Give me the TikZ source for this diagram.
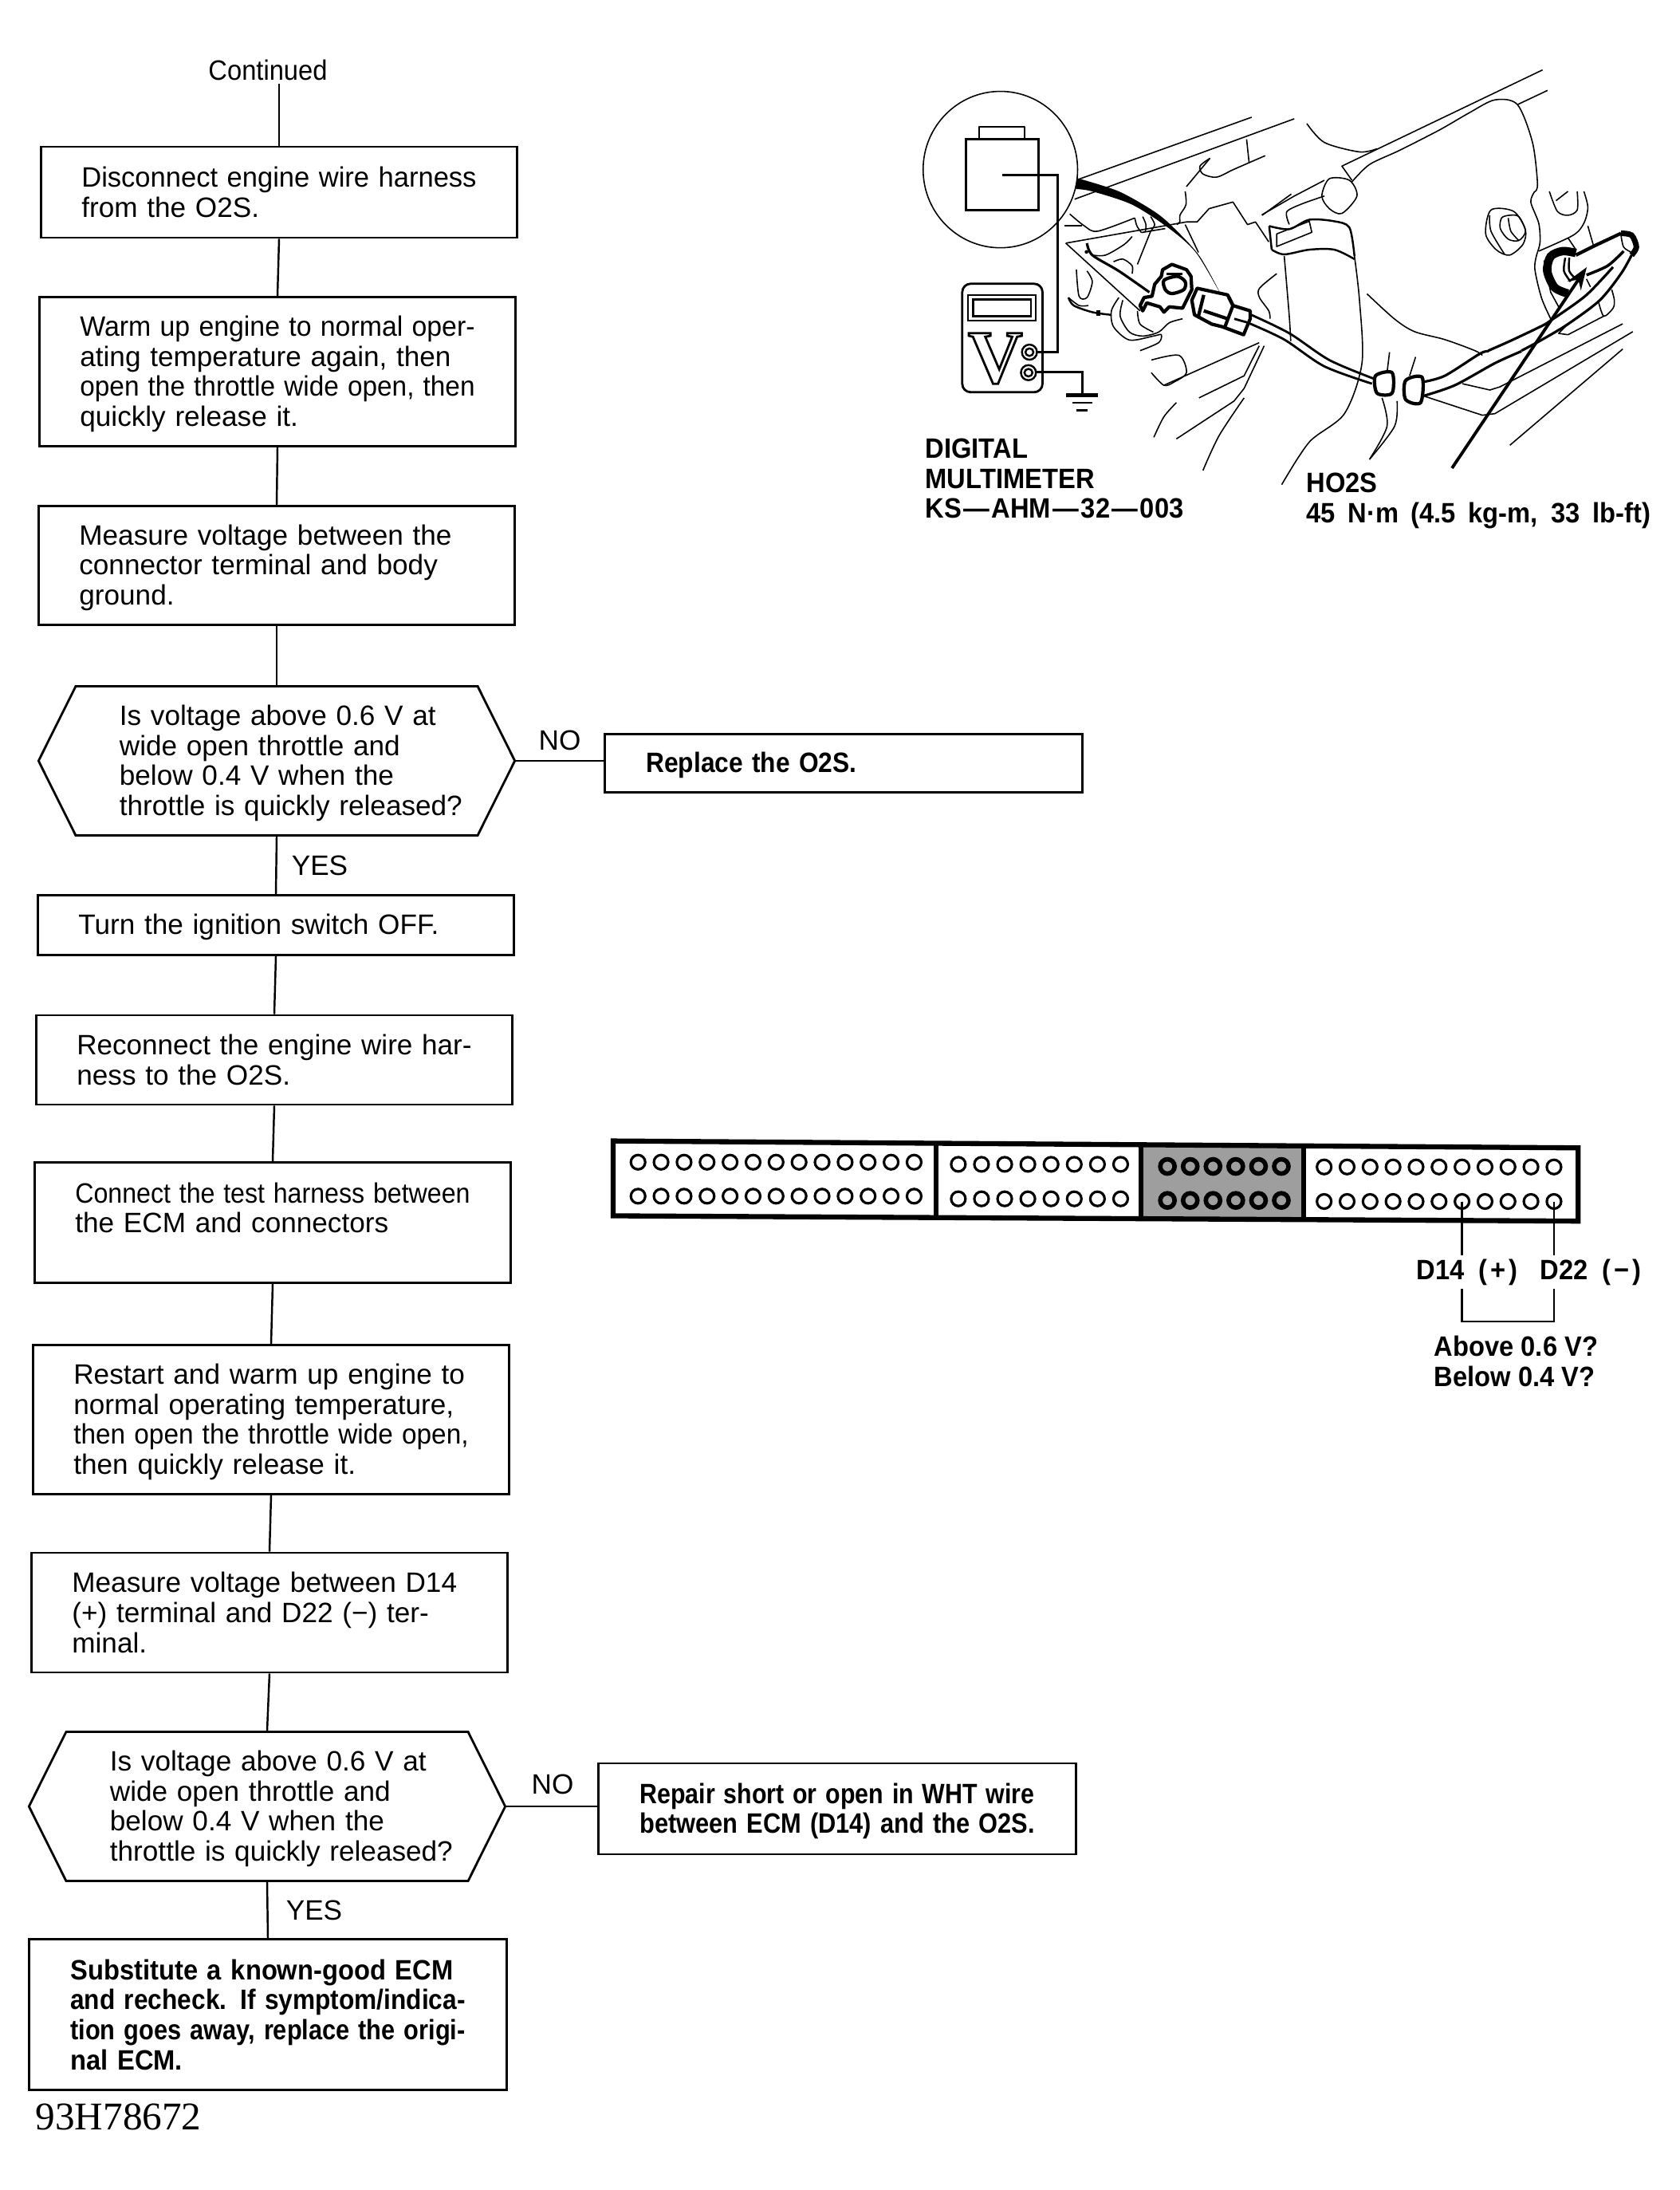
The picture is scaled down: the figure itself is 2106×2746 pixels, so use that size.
\documentclass[tikz,border=0pt]{standalone}
\usepackage{fontspec,graphicx}
\setmainfont{Liberation Sans}
\newfontfamily\serifcode{Liberation Serif}
\newfontfamily\flowbold[FakeStretch=0.93]{Liberation Sans}
\usetikzlibrary{arrows.meta,shapes.symbols}
\newsavebox\linebox
\newcommand{\fl}[2][4.95cm]{\sbox\linebox{#2}\ifdim\wd\linebox>#1\relax\resizebox{#1}{\height}{\usebox\linebox}\else\makebox[#1][s]{#2}\fi}
\newcommand{\jl}[2][4.95cm]{\fl[#1]{#2}\\}
\newcommand{\ql}{\hspace*{0.38cm}}
\newcommand{\flowfont}{\fontsize{10}{10.7}\selectfont}
\newcommand{\boldfont}{\fontsize{10}{10.7}\selectfont\flowbold\bfseries}
\newcommand{\dashgap}{\kern0.7pt—\kern0.7pt}
\begin{document}
\begin{tikzpicture}[
  x=0.01cm, y=-0.01cm,
  node_step/.style={draw, line width=0.8pt, minimum width=5.97cm, align=left, text width=4.95cm, inner sep=0pt, font=\flowfont},
  node_fix/.style={node_step, minimum width=5.98cm, font=\boldfont},
  node_ask/.style={draw, line width=0.8pt, shape=signal, signal to=east and west, signal pointer angle=127, minimum width=5.97cm, minimum height=1.87cm, inner sep=0pt, align=left, text width=4.7cm, font=\flowfont},
  node_lbl/.style={inner sep=1pt, font=\flowfont},
  node_bold/.style={inner sep=0pt, align=left, anchor=west, font=\boldfont},
  text_low/.style={execute at begin node={\leavevmode\rule{0pt}{0.31cm}}},
  hole/.style={draw, circle, line width=0.9pt, minimum size=0.18cm, inner sep=0pt},
  hole_dark/.style={hole, line width=1.6pt},
  link/.style={line width=0.7pt},
  art/.style={line width=0.45pt, line join=round},
  art_heavy/.style={line width=1.2pt, line join=round}
]
  \useasboundingbox (0,0) rectangle (2106,2746);

  %% Flowchart, left column
  \node[node_lbl] (cont) at (336,88) {\resizebox{1.49cm}{\height}{Continued}};
  \node[node_step, minimum height=1.14cm] (disc) at (350,241) {\jl{Disconnect engine wire harness}from the O2S.};
  \node[node_step, text_low, minimum height=1.87cm] (warm) at (348,466) {\jl{Warm up engine to normal oper-}\jl{ating temperature again, then}\jl{open the throttle wide open, then}quickly release it.};
  \node[node_step, text_low, minimum height=1.49cm] (meas) at (347,709) {\jl{Measure voltage between the}\jl{connector terminal and body}ground.};
  \node[node_ask, text_low] (ask1) at (347,954) {\ql Is voltage above 0.6 V at\\\ql wide open throttle and\\\ql below 0.4 V when the\\\ql throttle is quickly released?};
  \node[node_step, text_low, minimum height=0.75cm] (off) at (346,1160) {Turn the ignition switch OFF.};
  \node[node_step, minimum height=1.12cm] (reco) at (344,1329) {\jl{Reconnect the engine wire har-}ness to the O2S.};
  \node[node_step, minimum height=1.51cm] (test) at (342,1533) {\jl{Connect the test harness between}\jl[4.11cm]{the ECM and connectors}\mbox{}};
  \node[node_step, text_low, minimum height=1.87cm] (rest) at (340,1780) {\jl{Restart and warm up engine to}\jl{normal operating temperature,}\jl{then open the throttle wide open,}then quickly release it.};
  \node[node_step, minimum height=1.50cm] (mea2) at (338,2022) {\jl{Measure voltage between D14}\jl{(+) terminal and D22 (−) ter-}minal.};
  \node[node_ask, text_low] (ask2) at (335,2265) {\ql Is voltage above 0.6 V at\\\ql wide open throttle and\\\ql below 0.4 V when the\\\ql throttle is quickly released?};
  \node[node_fix, minimum height=1.89cm] (subs) at (336,2526) {\jl{Substitute a known-good ECM}\jl{and recheck. If symptom/indica-}\jl{tion goes away, replace the origi-}nal ECM.};

  %% Right hand boxes
  \node[node_fix, text_low, minimum height=0.73cm] (repl) at (1058,957) {\fl[2.64cm]{Replace the O2S.}};
  \node[node_fix, text_low, minimum height=1.14cm] (repa) at (1050,2268) {\jl{Repair short or open in WHT wire}\fl{between ECM (D14) and the O2S.}};

  \draw[link] (cont.south -| disc.north) -- (disc.north);
  \draw[link] (disc.south) -- (warm.north);
  \draw[link] (warm.south) -- (meas.north);
  \draw[link] (meas.south) -- (ask1.north);
  \draw[link] (ask1.south) -- (off.north);
  \draw[link] (off.south) -- (reco.north);
  \draw[link] (reco.south) -- (test.north);
  \draw[link] (test.south) -- (rest.north);
  \draw[link] (rest.south) -- (mea2.north);
  \draw[link] (mea2.south) -- (ask2.north);
  \draw[link] (ask2.south) -- (subs.north);
  \draw[link] (ask1.east) -- (repl.west |- ask1.east);
  \draw[link] (ask2.east) -- (repa.west |- ask2.east);

  \node[node_lbl] (no1)  at (702,928)  {NO};
  \node[node_lbl] (yes1) at (401,1085) {YES};
  \node[node_lbl] (no2)  at (693,2237) {NO};
  \node[node_lbl] (yes2) at (394,2395) {YES};
  \node[inner sep=0pt, anchor=west, font=\serifcode\fontsize{14}{16}\selectfont] (code) at (44,2654) {93H78672};

  %% ECM connector
  \begin{scope}[shift={(750,1400)}, x=0.00865cm, y=-0.00332cm]
    \fill[black!38] (787,115) rectangle (1022,382);
    \draw[line width=1.8pt, line join=miter] (22,92) -- (1420,118) -- (1420,394) -- (22,374) -- cycle;
    \draw[line width=1.6pt] (490,100) -- (490,376);
    \draw[line width=1.6pt] (787,106) -- (787,380);
    \draw[line width=1.6pt] (1022,112) -- (1022,384);
    \foreach \i in {0,...,12} {
      \node[hole] (at\i) at ({58+33.33*\i},172) {};
      \node[hole] (ab\i) at ({58+33.33*\i},300) {};
    }
    \foreach \i in {0,...,7} {
      \node[hole] (bt\i) at ({522+33.6*\i},180) {};
      \node[hole] (bb\i) at ({522+33.6*\i},310) {};
    }
    \foreach \i in {0,...,5} {
      \node[hole_dark] (ct\i) at ({825+33*\i},188) {};
      \node[hole_dark] (cb\i) at ({825+33*\i},316) {};
    }
    \foreach \i in {0,...,10} {
      \node[hole] (dt\i) at ({1052+33.3*\i},190) {};
      \node[hole] (db\i) at ({1052+33.3*\i},320) {};
    }
  \end{scope}

  \node[node_bold, anchor=center] (d14) at (1840,1595) {D14\kern5pt(\kern1.2pt+\kern1.2pt)};
  \node[node_bold, anchor=center] (d22) at (1995,1595) {D22\kern5pt(\kern1.2pt−\kern1.2pt)};
  \coordinate (brk) at (1890,1657);
  \coordinate (wire_end) at (1890,1574);
  \coordinate (brk_top) at (1890,1616);
  \draw[link] (db6.center) -- (db6 |- wire_end);
  \draw[link] (db10.center) -- (db10 |- wire_end);
  \draw[link] (db6 |- brk_top) -- (db6 |- brk) -- (db10 |- brk) -- (db10 |- brk_top);
  \node[node_bold] (volt) at (1798,1707) {Above 0.6 V?\\Below 0.4 V?};

  %% Multimeter and HO2S labels
  \node[node_bold] (meter) at (1160,600) {DIGITAL\\MULTIMETER\\KS\dashgap AHM\dashgap 32\dashgap 003};
  \node[node_bold] (ho2s) at (1638,628) {HO2S\\\fl[4.31cm]{45 N·m (4.5 kg-m, 33 lb-ft)}};

  %% Engine drawing
  \begin{scope}[shift={(1120,60)}, x=0.00629cm, y=-0.00395cm]
    %% inset and meter
    \draw[art] (214,386) ellipse [x radius=154, y radius=248];
    \draw[line width=0.8pt] (145,290) rectangle (290,515);
    \draw[art] (172,290) -- (172,250) -- (262,250) -- (262,290);
    \draw[line width=0.8pt] (218,403) -- (328,403) -- (328,965) -- (288,965);
    \draw[line width=0.8pt, rounded corners=3pt] (138,748) rectangle (298,1092);
    \draw[line width=0.6pt] (150,785) rectangle (285,865);
    \draw[line width=0.8pt] (160,797) rectangle (275,850);
    \node[inner sep=0pt, font=\serifcode\bfseries\fontsize{27}{27}\selectfont] (vee) at (204,985) {\special{pdf:code q 1 Tr 0.8 w}V\special{pdf:code Q}};
    \draw[line width=0.7pt] (272,965) ellipse [x radius=15, y radius=24];
    \draw[line width=0.7pt] (272,965) ellipse [x radius=8, y radius=12];
    \draw[line width=0.7pt] (270,1030) ellipse [x radius=15, y radius=24];
    \draw[line width=0.7pt] (270,1030) ellipse [x radius=8, y radius=12];
    \draw[line width=0.8pt] (286,1028) -- (378,1028) -- (378,1100);
    \draw[line width=1.4pt] (345,1102) -- (408,1102);
    \draw[line width=0.7pt] (358,1125) -- (398,1125);
    \draw[line width=0.7pt] (365,1150) -- (388,1150);
    %% upper and lower left of the engine
    \draw[art] (368,418) -- (715,220);
    \draw[art] (362,480) -- (800,225);
    \draw[art] (705,290) -- (710,365);
    \draw[art] plot[smooth] coordinates {(632,350) (612,375) (618,400) (645,410) (680,385) (742,342)};
    \draw[art] (632,350) -- (585,440);
    \draw[art] plot[smooth] coordinates {(515,990) (570,975) (585,1030) (560,1060) (540,1070) (515,1030)};
    \draw[art] (540,1070) -- (730,935);
    \draw[art] (610,1110) -- (700,1040) -- (730,945);
    \draw[art] (565,1240) -- (680,1120) -- (700,1080) -- (740,945);
    \draw[art] plot[smooth] coordinates {(520,1235) (540,1170) (565,1125)};
    \draw[art] plot[smooth] coordinates {(618,1340) (650,1230) (700,1110)};
    %% wire to the lead
    \draw[line width=0.8pt] plot[smooth] coordinates {(712,845) (790,905) (870,990) (960,1050)};
    \draw[line width=0.8pt] plot[smooth] coordinates {(708,872) (780,925) (860,1010) (955,1065)};
    %% hose and clamp
    \draw[art] plot[smooth] coordinates {(920,660) (930,800) (935,1000) (900,1160) (830,1250) (775,1385)};
    \draw[art] plot[smooth] coordinates {(780,660) (790,850) (793,930)};
    \draw[line width=0.7pt] plot[smooth] coordinates {(750,565) (790,575) (830,545) (880,550) (910,570) (920,660)};
    \draw[line width=0.7pt] plot[smooth] coordinates {(755,640) (780,655) (830,640) (880,640) (920,670)};
    \draw[line width=0.7pt] (750,565) -- (755,640);
    \draw[art] (765,590) -- (830,550) -- (835,585) -- (765,630) -- cycle;
    \draw[art] plot[smooth cycle] coordinates {(870,415) (910,420) (925,470) (895,525) (870,510) (855,470)};
    \draw[art] (735,530) -- (800,470) -- (860,420);
    \draw[art] plot[smooth] coordinates {(790,560) (785,520) (815,495) (860,470)};
    \draw[art] plot[smooth] coordinates {(825,240) (860,300) (930,330) (965,320)};
    %% engine body
    \draw[art] (1295,70) -- (895,375) -- (915,420);
    \draw[art] plot[smooth] coordinates {(915,425) (950,370) (1010,325) (1090,260) (1150,205) (1200,165) (1245,180) (1275,300) (1285,430) (1280,456)};
    \draw[art] (1245,180) -- (1305,135);
    \draw[art] plot[smooth] coordinates {(945,780) (1000,860) (1040,900) (1100,925) (1160,960) (1175,975)};
    \draw[art] (1060,1105) -- (1175,1165) -- (1200,1160) -- (1475,900);
    \draw[art] (1135,1065) -- (1190,1085) -- (1210,1075) -- (1455,875);
    \draw[art] (1230,1260) -- (1455,955);
    \draw[art] plot[smooth] coordinates {(975,1110) (985,1200) (950,1305)};
    \draw[art] plot[smooth] coordinates {(1005,1120) (1000,1200) (950,1305)};
    \draw[art] (990,965) -- (985,1030);
    \draw[art] (1042,980) -- (1030,1040);
    %% sensor lead
    \draw[line width=0.9pt] plot[smooth] coordinates {(1055,1060) (1100,1040) (1170,970) (1188,962)};
    \draw[line width=0.9pt] plot[smooth] coordinates {(1055,1105) (1120,1070) (1200,1000) (1253,962)};
    \draw[art_heavy, fill=white] plot[smooth cycle] coordinates {(962,1040) (995,1030) (995,1095) (965,1095)};
    \draw[art_heavy, fill=white] plot[smooth cycle] coordinates {(1022,1055) (1055,1045) (1052,1125) (1022,1115)};
  \end{scope}

  %% Connectors and harness
  \begin{scope}[shift={(1320,240)}, x=0.00333cm, y=-0.00333cm]
    \fill plot[smooth] coordinates {(93,-50) (250,0) (390,80) (470,150) (555,245) (630,380) (540,230) (440,140) (300,50) (150,0) (88,-9)} -- cycle;
    \draw[art] plot[smooth] coordinates {(500,0) (503,50) (480,90) (480,115) (468,125)};
    \draw[art] (50,195) -- (330,450);
    \draw[art] (50,195) -- (505,115) -- (545,115) -- (590,65) -- (680,40) -- (735,125) -- (765,115) -- (815,190);
    \draw[line width=0.9pt] plot[smooth] coordinates {(130,195) (150,240) (250,300) (365,380)};
    \fill (128,228) circle [radius=7];
    \draw[art] plot[smooth] coordinates {(65,85) (120,130) (170,150) (310,100)};
    \draw[art] (45,130) -- (110,130);
    \draw[art] plot[smooth] coordinates {(310,100) (318,130) (335,155)};
    \draw[art] plot[smooth] coordinates {(340,95) (352,125) (350,150)};
    \draw[art] plot[smooth] coordinates {(370,95) (385,125) (370,150)};
    \draw[art] (335,155) -- (425,140);
    \draw[art] (370,150) -- (320,275);
    \draw[art] (500,125) -- (550,230);
    \draw[art] plot[smooth] coordinates {(300,170) (270,200) (200,240) (150,240)};
    \draw[art] plot[smooth] coordinates {(230,265) (265,255) (300,280) (300,310)};
    \draw[art] plot[smooth] coordinates {(90,295) (100,395) (130,400) (150,340) (130,300)};
    \draw[line width=0.7pt] plot[smooth] coordinates {(60,400) (80,430) (150,455) (220,465)};
    \draw[art] plot[smooth] coordinates {(60,400) (100,430) (135,430)};
    \fill (165,448) rectangle (180,470);
    \draw[art] plot[smooth] coordinates {(250,400) (222,450) (230,510) (290,560) (380,545) (410,540) (400,570) (330,600)};
    \draw[art] plot[smooth] coordinates {(265,410) (255,470) (290,530) (340,545) (400,530) (440,495) (490,480)};
    \draw[art] plot[smooth] coordinates {(320,450) (330,500) (380,530)};
    \draw[art] (790,90) -- (900,10);
    \draw[art] plot[smooth] coordinates {(845,310) (780,365) (780,400) (815,450) (820,480)};
    \draw[art_heavy, fill=white] (415,295) -- (450,275) -- (505,295) -- (522,320) -- (525,370) -- (490,440) -- (440,435) -- (420,455) -- (405,435) -- (355,420) -- (340,450) -- (330,430) -- (345,400) -- (375,395) -- (385,350) -- (410,320) -- cycle;
    \draw[art_heavy] plot[smooth cycle] coordinates {(420,335) (470,320) (500,340) (495,370) (450,385) (425,370)};
    \draw[line width=0.8pt] (430,312) -- (490,312);
    \draw[art_heavy, fill=white] (545,365) -- (660,390) -- (680,430) -- (745,450) -- (745,480) -- (720,540) -- (640,510) -- (600,500) -- (535,465) -- (525,410) -- cycle;
    \draw[art_heavy] (570,390) -- (550,470);
    \draw[art_heavy] (570,450) -- (660,480);
    \draw[art_heavy] (665,400) -- (680,430) -- (650,510);
    \draw[line width=0.8pt] (685,480) -- (738,495);
  \end{scope}

  %% Sensor end
  \begin{scope}[shift={(1820,240)}, x=0.00333cm, y=-0.00333cm]
    \draw[art] plot[smooth cycle] coordinates {(150,70) (235,75) (280,145) (270,200) (220,240) (170,220) (130,160)};
    \draw[art] plot[smooth] coordinates {(145,90) (150,150) (200,235)};
    \draw[art] plot[smooth cycle] coordinates {(220,90) (190,100) (185,140) (215,180) (255,185) (280,150) (255,95)};
    \draw[art] plot[smooth] coordinates {(215,100) (225,150) (255,185)};
    \draw[art] plot[smooth] coordinates {(315,0) (300,40) (330,120) (335,190) (325,230)};
    \draw[art] plot[smooth] coordinates {(370,0) (400,75) (440,90) (475,70) (475,0)};
    \draw[art] (395,35) -- (440,0);
    \draw[art] plot[smooth] coordinates {(500,0) (515,60) (500,120) (460,165) (330,225)};
    \draw[art] (515,130) -- (535,200);
    \draw[art] (440,175) -- (470,220);
    \draw[art] plot[smooth] coordinates {(325,230) (315,290) (340,400) (375,480)};
    \draw[art] (350,260) -- (375,380) -- (405,435);
    \draw[art] (510,330) -- (525,360);
    \draw[art] plot[smooth] coordinates {(555,415) (575,470) (610,440) (615,410) (605,370)};
    \draw[art] (575,470) -- (440,540) -- (405,535) -- (430,510);
    \draw[line width=0.9pt] plot[smooth] coordinates {(140,600) (230,560) (355,500) (400,470) (510,390) (610,285)};
    \draw[line width=0.9pt] plot[smooth] coordinates {(265,600) (340,560) (440,500) (560,410) (640,310) (680,240)};
    \draw[line width=1pt] plot[smooth] coordinates {(650,225) (590,280) (510,315)};
    \draw[line width=1.2pt] (470,240) -- (540,205) -- (640,158);
    \draw[line width=2pt, line join=round] plot[smooth] coordinates {(640,158) (680,165) (698,210) (680,240)};
    \draw[art] plot[smooth] coordinates {(640,165) (650,210) (680,230)};
    \draw[line width=3pt] plot[smooth] coordinates {(470,232) (420,225) (375,245) (362,300) (390,362) (440,385)};
    \draw[line width=0.7pt] plot[smooth] coordinates {(430,250) (425,300) (450,340)};
    \draw[line width=0.7pt] plot[smooth] coordinates {(445,250) (445,300) (470,330)};
  \end{scope}

  %% Torque arrow
  \coordinate (tail) at (1821,587);
  \coordinate (tip) at (1990,335);
  \draw[line width=1.1pt, -{Stealth[length=0.28cm, width=0.2cm]}] (tail) -- (tip);
\end{tikzpicture}
\end{document}
